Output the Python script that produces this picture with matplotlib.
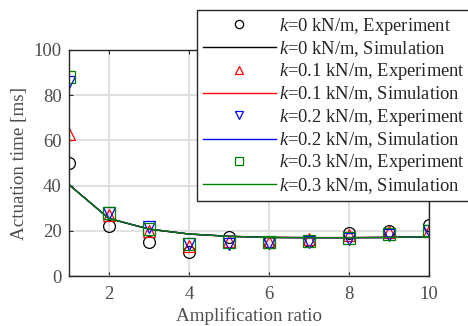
import matplotlib
matplotlib.use("Agg")
import matplotlib.pyplot as plt

plt.rcParams['font.family'] = ['Liberation Serif', 'DejaVu Serif']
plt.rcParams['mathtext.fontset'] = 'custom'
plt.rcParams['mathtext.it'] = 'Liberation Serif:italic'
plt.rcParams['mathtext.rm'] = 'Liberation Serif'

ratio = [1, 2, 3, 4, 5, 6, 7, 8, 9, 10]

# experiment values [ms]
exp_k0 = [50, 22, 15, 10.5, 17.5, 15, 15.5, 19, 20, 22.5]
exp_k01 = [63, 27, 20, 13.5, 15.5, 15, 16.5, 18, 19.5, 20]
exp_k02 = [86, 28, 21.5, 14, 14, 14.5, 15, 16.5, 18, 20]
exp_k03 = [88, 28, 21, 14, 15, 15, 15.5, 17, 18.5, 20]

# simulation values [ms]
sim_k0 = [40.5, 25.5, 20.8, 18.6, 17.6, 17.1, 17.0, 17.0, 17.1, 17.4]
sim_k01 = [40.5, 25.5, 20.8, 18.6, 17.6, 17.1, 17.0, 17.0, 17.1, 17.4]
sim_k02 = [40.5, 25.5, 20.8, 18.6, 17.6, 17.1, 17.0, 17.0, 17.1, 17.4]
sim_k03 = [40.5, 25.5, 20.8, 18.6, 17.6, 17.1, 17.0, 17.0, 17.1, 17.4]

labels = ['0', '0.1', '0.2', '0.3']
colors = ['black', 'red', 'blue', 'green']
markers = ['o', '^', 'v', 's']
exps = [exp_k0, exp_k01, exp_k02, exp_k03]
sims = [sim_k0, sim_k01, sim_k02, sim_k03]

fig = plt.figure(figsize=(4.68, 3.26), dpi=100)
ax = fig.add_axes([0.147, 0.153, 0.77, 0.694])

for lab, c, m, e, s in zip(labels, colors, markers, exps, sims):
    ax.plot(ratio, e, linestyle='none', marker=m, markersize=8.5,
            markerfacecolor='none', markeredgecolor=c, markeredgewidth=0.9,
            label=r'$k$=' + lab + ' kN/m, Experiment')
    ax.plot(ratio, s, color=c, linewidth=1.0,
            label=r'$k$=' + lab + ' kN/m, Simulation')

ax.set_xlim(1, 10)
ax.set_ylim(0, 100)
ax.set_xticks([2, 4, 6, 8, 10])
ax.set_yticks([0, 20, 40, 60, 80, 100])
ax.grid(True, color='#dcdcdc', linewidth=1.2)
ax.set_axisbelow(True)
ax.tick_params(direction='in', top=True, right=True, labelsize=13.5,
               colors='#262626', labelcolor='#4d4d4d', length=3)
ax.tick_params(axis='x', pad=7)
ax.tick_params(axis='y', pad=5)
for sp in ax.spines.values():
    sp.set_color('#262626')
    sp.set_linewidth(1.0)
ax.set_xlabel('Amplification ratio', fontsize=13.7, color='#4d4d4d', labelpad=3)
ax.set_ylabel('Actuation time [ms]', fontsize=13.7, color='#4d4d4d', labelpad=4)

leg = fig.legend(loc='upper left', bbox_to_anchor=(197 / 468, 1 - 10 / 326),
                 fontsize=13.3, frameon=True, fancybox=False, framealpha=1,
                 edgecolor='#262626', handlelength=3.95, borderpad=0.3,
                 labelspacing=0.13, handletextpad=0.2, borderaxespad=0,
                 markerscale=0.7)
leg.get_frame().set_linewidth(1.0)
for t in leg.get_texts():
    t.set_color('#262626')

fig.savefig('out.png', dpi=100)
